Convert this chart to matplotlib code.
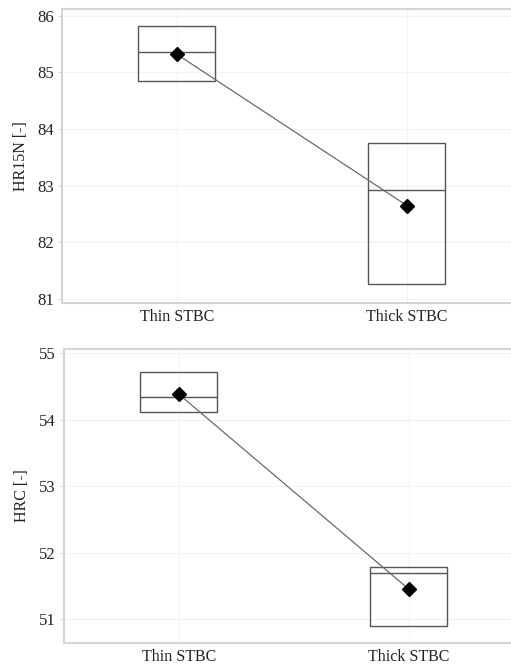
import matplotlib
matplotlib.use("Agg")
import matplotlib.pyplot as plt
import numpy as np

plt.rcParams['font.family'] = ['Liberation Serif', 'DejaVu Serif']

categories = ["Thin STBC", "Thick STBC"]

# HR15N summary per group
hr15n_upper = [85.82, 83.76]
hr15n_median = [85.36, 82.92]
hr15n_lower = [84.85, 81.27]
hr15n_mean = [85.32, 82.65]

# HRC summary per group
hrc_upper = [54.72, 51.78]
hrc_median = [54.34, 51.70]
hrc_lower = [54.12, 50.89]
hrc_mean = [54.38, 51.45]

panels = [
    dict(label="HR15N [-]", upper=hr15n_upper, median=hr15n_median, lower=hr15n_lower,
         mean=hr15n_mean, ylim=(80.93, 86.12), yticks=[81, 82, 83, 84, 85, 86],
         rect=[0.1213, 0.5437, 0.90, 0.4427]),
    dict(label="HRC [-]", upper=hrc_upper, median=hrc_median, lower=hrc_lower,
         mean=hrc_mean, ylim=(50.64, 55.06), yticks=[51, 52, 53, 54, 55],
         rect=[0.125, 0.0316, 0.90, 0.4428]),
]

fig = plt.figure(figsize=(5.11, 6.64), dpi=100)
x = np.arange(len(categories))
box_w = 0.335
spine_c = "#d4d4d4"
box_c = "#555555"

for p in panels:
    ax = fig.add_axes(p["rect"])
    ax.set_xlim(-0.5, 1.5)
    ax.set_ylim(*p["ylim"])
    for yt in p["yticks"]:
        ax.axhline(yt, color="#f2f2f2", lw=0.8, zorder=0)
    for xi in x:
        ax.axvline(xi, color="#f2f2f2", lw=0.8, zorder=0)
    lo = np.array(p["lower"])
    hi = np.array(p["upper"])
    ax.bar(x, hi - lo, bottom=lo, width=box_w, facecolor="none",
           edgecolor=box_c, linewidth=1.0, zorder=2)
    ax.hlines(p["median"], x - box_w / 2, x + box_w / 2, color=box_c, lw=1.0, zorder=2)
    ax.plot(x, p["mean"], color="#6a6a6a", lw=0.9, zorder=3)
    ax.plot(x, p["mean"], linestyle="none", marker="D", markersize=7,
            color="black", zorder=4)
    ax.set_xticks(x)
    ax.set_xticklabels(categories)
    ax.set_yticks(p["yticks"])
    ax.set_ylabel(p["label"], fontsize=11.5, color="#222222", labelpad=6)
    ax.tick_params(axis="y", labelsize=12, colors="#222222",
                   length=3, color=spine_c, pad=3)
    ax.tick_params(axis="x", labelsize=11.5, colors="#222222", length=0, pad=4)
    for s in ["left", "top", "bottom"]:
        ax.spines[s].set_color(spine_c)
        ax.spines[s].set_linewidth(1.5)
    ax.spines["right"].set_visible(False)

fig.savefig("out.png", dpi=100, facecolor="white")
